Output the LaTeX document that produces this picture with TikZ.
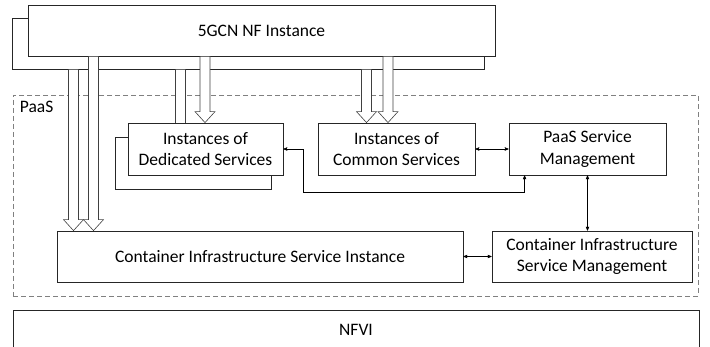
\documentclass[tikz,border=0pt]{standalone}
\usepackage{fontspec}
\setmainfont{Carlito}
\usepackage{tikz}
\usetikzlibrary{arrows}
\usetikzlibrary{calc}
\newcommand{\fatdown}[3]{%
  \coordinate (t) at (#1,0);
  \filldraw[fill=white,draw=black!75,line width=0.6pt]
    ($(t |- #2)+(-5,0)$) -- ($(t |- #3)+(-5,-11)$) -- ($(t |- #3)+(-10,-11)$) -- (t |- #3)
    -- ($(t |- #3)+(10,-11)$) -- ($(t |- #3)+(5,-11)$) -- ($(t |- #2)+(5,0)$) -- cycle;}

\begin{document}
\begin{tikzpicture}[x=1pt,y=-1pt,>=stealth',semithick,font=\fontsize{17.5}{21.5}\selectfont,
  box/.style={shape=rectangle,draw=black!85,fill=white,line width=0.8pt,align=center,inner sep=0pt}]
  \useasboundingbox (0,0) rectangle (710,347);

  \node[shape=rectangle,draw=black!50,dash pattern=on 5pt off 3pt,line width=0.8pt,minimum width=685pt,minimum height=201pt] (PaaS) at (355.5,195.5) {};
  \node[anchor=north west,inner sep=0pt] (PaaSlbl) at ([shift={(7,6)}]PaaS.north west) {PaaS};

  \node[box,minimum width=472pt,minimum height=51pt] (NFb) at (248,43.5) {};
  \node[box,minimum width=467pt,minimum height=51pt] (NF)  at (261.5,30.5) {5GCN NF Instance};
  \node[box,minimum width=156pt,minimum height=52pt] (DSb) at (193,163) {};

  \node[box,minimum width=406pt,minimum height=51pt] (CISI) at (260,256.5) {Container Infrastructure Service Instance};
  \node[box,minimum width=157pt,minimum height=52pt] (CS)   at (396.5,149) {Instances of\\Common Services};

  % hollow arrows from the NF instances
  \fatdown{73.5}{NFb.south}{CISI.north}
  \fatdown{180.5}{NFb.south}{DSb.north}
  \fatdown{366.5}{NFb.south}{CS.north}
  \fatdown{93.5}{NF.south}{CISI.north}
  \fatdown{388}{NF.south}{CS.north}

  \node[box,minimum width=155pt,minimum height=52pt] (DS)   at (205.5,149) {Instances of\\Dedicated Services};
  \fatdown{205}{NF.south}{DS.north}
  \node[box,minimum width=157pt,minimum height=52pt] (PSM)  at (587.5,149) {PaaS Service\\Management};
  \node[box,minimum width=200pt,minimum height=51pt] (CISM) at (592,256.5) {Container Infrastructure\\Service Management};
  \node[box,minimum width=686pt,minimum height=40pt] (NFVI) at (356,330) {NFVI};

  \draw[<->,line width=0.5pt] (CS.east) -- (PSM.west);
  \draw[<->,line width=0.5pt] (DS.east) -- ++(20,0) -- ++(0,43) -| ($(PSM.south west)+(16,0)$);
  \draw[<->,line width=0.5pt] (PSM.south) -- (PSM.south |- CISM.north);
  \draw[<->,line width=0.5pt] (CISI.east) -- (CISM.west);
\end{tikzpicture}
\end{document}
